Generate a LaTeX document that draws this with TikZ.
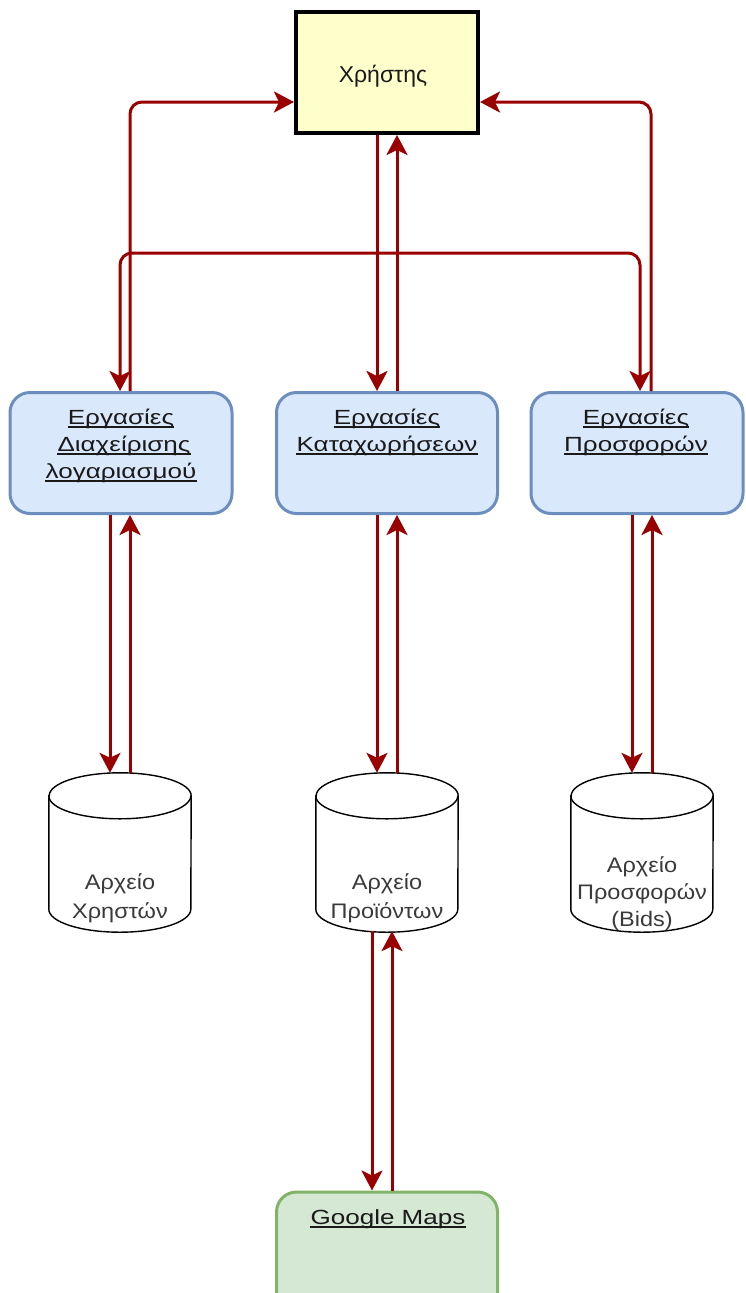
\documentclass[tikz,border=0pt]{standalone}
\usepackage{fontspec}
\setmainfont{Liberation Sans}
\newfontfamily\boxfont[FakeStretch=1.27]{Liberation Sans}
\newfontfamily\dbfont[FakeStretch=1.12]{Liberation Sans}
\usetikzlibrary{arrows.meta,calc}
\definecolor{arr}{HTML}{990000}
\definecolor{userfill}{HTML}{FFFFCC}
\definecolor{bluefill}{HTML}{DAE8FC}
\definecolor{blueline}{HTML}{6C8EBF}
\definecolor{greenfill}{HTML}{D5E8D4}
\definecolor{greenline}{HTML}{82B366}
\definecolor{txt}{HTML}{1A1A1A}
\definecolor{dbtxt}{HTML}{3A3A3A}
\tikzset{
  userbox/.style={draw=black, line width=4pt, fill=userfill, minimum width=182pt, minimum height=121pt, inner sep=0pt},
  taskbox/.style={draw=blueline, line width=3pt, fill=bluefill, rounded corners=20pt, minimum height=121pt, inner sep=0pt},
  mapbox/.style={draw=greenline, line width=3pt, fill=greenfill, rounded corners=20pt, minimum width=221pt, minimum height=121pt, inner sep=0pt},
  boxtext/.style={anchor=base, text=txt, font=\boxfont\fontsize{20.5}{25}\selectfont, inner sep=0pt},
  dbtext/.style={anchor=base, text=dbtxt, font=\dbfont\fontsize{21}{25}\selectfont, inner sep=0pt},
  dbnode/.style={minimum width=142pt, minimum height=159pt, inner sep=0pt},
  flow/.style={draw=arr, line width=3pt, rounded corners=12pt, -{Stealth[length=20pt,width=21pt,inset=5pt]}},
  cyl/.style={draw=black, line width=1.4pt, fill=white},
  uline/.style={draw=txt, line width=1.3pt},
}
\newcommand{\ulnode}[4]{%
  \node[boxtext] (#1) at (#2,#3) {#4};
  \path[uline] ([yshift=-3pt]#1.base west) -- ([yshift=-3pt]#1.base east);
}
\newcommand{\dbshape}[1]{%
  \path[cyl] (#1.north west) ++(0,-23pt) -- ($(#1.south west)+(0,23pt)$)
    arc[start angle=180, end angle=360, x radius=71pt, y radius=23pt]
    -- ($(#1.north east)+(0,-23pt)$)
    arc[start angle=0, end angle=180, x radius=71pt, y radius=23pt] -- cycle;
  \draw[cyl, fill=none] ($(#1.north west)+(0,-23pt)$)
    arc[start angle=180, end angle=360, x radius=71pt, y radius=23pt];
}
\begin{document}
\begin{tikzpicture}[x=1pt, y=-1pt]
\useasboundingbox (0,0) rectangle (745,1293);

% boxes
\node[userbox] (user) at (387,72.5) {};
\node[anchor=base, inner sep=0pt, text=txt, font=\fontsize{23}{26}\selectfont] (usert) at (383,82) {Χρήστης};

\node[taskbox, minimum width=222pt] (acc) at (121,453) {};
\node[taskbox, minimum width=221pt] (reg) at (387,453) {};
\node[taskbox, minimum width=212pt] (bid) at (637,453) {};
\ulnode{acct1}{121}{424}{Εργασίες}
\ulnode{acct2}{124}{451}{Διαχείρισης}
\ulnode{acct3}{121}{478}{λογαριασμού}
\ulnode{regt1}{387}{424}{Εργασίες}
\ulnode{regt2}{387}{451}{Καταχωρήσεων}
\ulnode{bidt1}{636}{424}{Εργασίες}
\ulnode{bidt2}{636}{451}{Προσφορών}

\node[mapbox] (gm) at (387,1252.5) {};
\ulnode{gmt}{388}{1224}{Google Maps}

% databases
\node[dbnode] (dbU) at (120,852.5) {};
\node[dbnode] (dbP) at (387,852.5) {};
\node[dbnode] (dbB) at (642,852.5) {};
\dbshape{dbU}
\dbshape{dbP}
\dbshape{dbB}
\node[dbtext] (dbUt1) at (120,889) {Αρχείο};
\node[dbtext] (dbUt2) at (120,918) {Χρηστών};
\node[dbtext] (dbPt1) at (387,889) {Αρχείο};
\node[dbtext] (dbPt2) at (387,918) {Προϊόντων};
\node[dbtext] (dbBt1) at (642,872) {Αρχείο};
\node[dbtext] (dbBt2) at (642,899) {Προσφορών};
\node[dbtext] (dbBt3) at (642,926) {(Bids)};

% user <-> middle
\draw[flow] ([xshift=-10pt]user.south) -- ([xshift=-10pt]reg.north);
\draw[flow] ([xshift=10pt]reg.north) -- ([xshift=10pt]user.south);
% user -> side tasks (branching off the middle line)
\coordinate (split) at (377,253);
\draw[flow] (split) -- ([xshift=-1pt]split -| acc.north) -- ([xshift=-1pt]acc.north);
\draw[flow] (split) -- ([xshift=3pt]split -| bid.north) -- ([xshift=3pt]bid.north);
% side tasks -> user
\coordinate (ul) at ($(user.west)+(0,29.5)$);
\coordinate (ur) at ($(user.east)+(0,29.5)$);
\draw[flow] ([xshift=9pt]acc.north) |- (ul);
\draw[flow] ([xshift=14pt]bid.north) |- (ur);

% tasks <-> databases
\draw[flow] ([xshift=-11pt]acc.south) -- ([xshift=-10pt]dbU.north);
\draw[flow] ([xshift=10pt]dbU.north) -- ([xshift=9pt]acc.south);
\draw[flow] ([xshift=-10pt]reg.south) -- ([xshift=-10pt]dbP.north);
\draw[flow] ([xshift=10pt]dbP.north) -- ([xshift=10pt]reg.south);
\draw[flow] ([xshift=-5pt]bid.south) -- ([xshift=-10pt]dbB.north);
\draw[flow] ([xshift=10pt]dbB.north) -- ([xshift=15pt]bid.south);

% products <-> google maps
\draw[flow] ([xshift=-15pt,yshift=1pt]dbP.south) -- ([xshift=-15pt]gm.north);
\draw[flow] ([xshift=5pt]gm.north) -- ([xshift=5pt,yshift=1pt]dbP.south);
\end{tikzpicture}
\end{document}
